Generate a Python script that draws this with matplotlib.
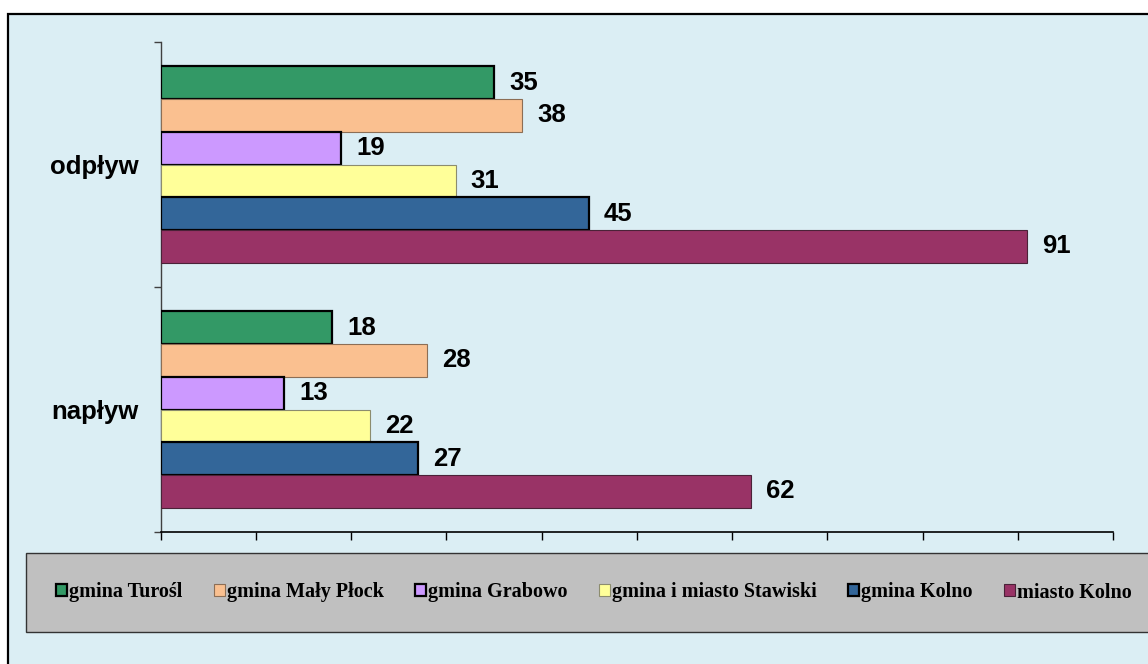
import matplotlib
matplotlib.use('Agg')
import matplotlib.pyplot as plt
import numpy as np
from matplotlib.patches import Rectangle, Patch
from matplotlib.font_manager import FontProperties

categories = ['napływ', 'odpływ']
series = ['gmina Turośl', 'gmina Mały Płock', 'gmina Grabowo',
          'gmina i miasto Stawiski', 'gmina Kolno', 'miasto Kolno']
naplyw = [18, 28, 13, 22, 27, 62]
odplyw = [35, 38, 19, 31, 45, 91]
xticks = list(range(0, 101, 10))

colors = ['#339966', '#FAC090', '#CC99FF', '#FFFF99', '#336699', '#993366']
edges = ['#000000', '#8C6E55', '#000000', '#8C8C6E', '#000000', '#4A2238']
lws = [1.6, 0.8, 1.6, 0.8, 1.6, 0.8]

W, H = 1148, 664
fig = plt.figure(figsize=(W / 100, H / 100), dpi=100)
fig.patch.set_facecolor('white')

# outer chart area
fig.add_artist(Rectangle((8 / W, -0.05), 1.2, 1 - 14 / H + 0.05,
                         transform=fig.transFigure, facecolor='#DBEEF4',
                         edgecolor='black', lw=1.6, zorder=0))

L, R, T, B = 160.5, 1113, 42, 532
ax = fig.add_axes([L / W, 1 - B / H, (R - L) / W, (B - T) / H])
ax.set_facecolor('none')

h = 0.1335
ypos = np.arange(len(categories))
for i, name in enumerate(series):
    vals = [naplyw[i], odplyw[i]]
    y = ypos + (2.5 - i) * h
    ax.barh(y, vals, height=h, color=colors[i], edgecolor=edges[i],
            linewidth=lws[i], zorder=3)
    for yy, v in zip(y, vals):
        ax.annotate(str(v), xy=(v, yy), xytext=(10.8, 0),
                    textcoords='offset points', va='center', ha='left',
                    fontsize=18.5, fontweight='bold', family='Liberation Sans')

ax.set_xlim(0, 100)
ax.set_ylim(-0.5, 1.5)
ax.set_xticks(xticks)
ax.set_xticklabels([])
ax.set_yticks([-0.5, 0.5, 1.5])
ax.set_yticklabels([])
ax.set_yticks(ypos, minor=True)
ax.set_yticklabels(categories, minor=True, fontsize=18.5, fontweight='bold',
                   family='Liberation Sans')
ax.tick_params(axis='y', which='minor', length=0, pad=16)
ax.tick_params(axis='y', which='major', length=5, width=1, color='#404040', direction='out')
ax.tick_params(axis='x', which='major', length=5.5, width=1, color='black', direction='out')
for s in ['top', 'right']:
    ax.spines[s].set_visible(False)
ax.spines['left'].set_color('#404040')
ax.spines['bottom'].set_color('black')
ax.spines['left'].set_linewidth(1)
ax.spines['bottom'].set_linewidth(1.2)

# legend background box
fig.add_artist(Rectangle((26 / W, 1 - 632 / H), (1200 - 26) / W, 79 / H,
                         transform=fig.transFigure, facecolor='#C0C0C0',
                         edgecolor='#333333', lw=1.0, zorder=1))
handles = [Patch(facecolor=colors[i], edgecolor=edges[i], linewidth=lws[i])
           for i in range(len(series))]
leg = fig.legend(handles, series, loc='center',
                 bbox_to_anchor=(594 / W, 1 - 592.5 / H), ncol=6, frameon=False,
                 prop=FontProperties(family='Liberation Serif', weight='bold', size=14.5),
                 handlelength=0.55, handleheight=0.55, handletextpad=0.1,
                 columnspacing=1.55)
leg.set_zorder(2)

fig.savefig('out.png', dpi=100, facecolor=fig.get_facecolor())
